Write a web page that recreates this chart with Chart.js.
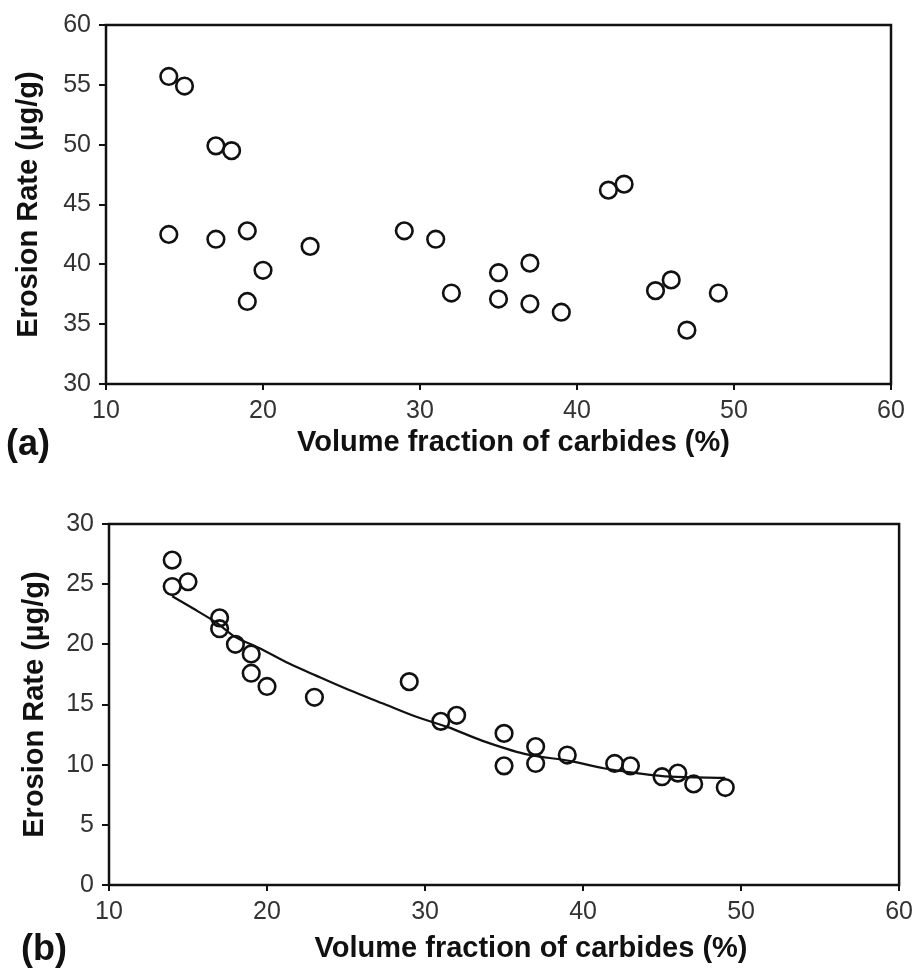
<!DOCTYPE html>
<html>
<head>
<meta charset="utf-8">
<script src="https://cdn.jsdelivr.net/npm/chart.js@4.4.1/dist/chart.umd.min.js"></script>
<style>
  body { margin: 0; background: #fff; }
  #wrap { position: relative; width: 919px; height: 970px; overflow: hidden; }
  canvas { position: absolute; left: 0; }
  #chartA { top: 0; }
  #chartB { top: 470px; }
  .panel { position: absolute; font: bold 36px "Liberation Sans", Arial, sans-serif; line-height: 36px; color: #111; }
</style>
</head>
<body>
<div id="wrap">
  <canvas id="chartA" width="919" height="470"></canvas>
  <canvas id="chartB" width="919" height="500"></canvas>
  <div class="panel" style="left:6px; top:425px;">(a)</div>
  <div class="panel" style="left:21px; top:930px;">(b)</div>
</div>
<script>
// panel (a) - raw points
const carbideA = [14, 15, 17, 18, 14, 17, 19, 20, 19, 23, 29, 31, 32, 35, 35, 37, 37, 39, 42, 43, 45, 46, 47, 49];
const erosionA = [55.7, 54.9, 49.9, 49.5, 42.5, 42.1, 42.8, 39.5, 36.9, 41.5, 42.8, 42.1, 37.6, 39.3, 37.1, 40.1, 36.7, 36.0, 46.2, 46.7, 37.8, 38.7, 34.5, 37.6];

// panel (b) - corrected points
const carbideB = [14, 14, 15, 17, 17, 18, 19, 19, 20, 23, 29, 31, 32, 35, 35, 37, 37, 39, 42, 43, 45, 46, 47, 49];
const erosionB = [27.0, 24.8, 25.2, 22.2, 21.3, 20.0, 19.2, 17.6, 16.5, 15.6, 16.9, 13.6, 14.1, 12.6, 9.9, 11.5, 10.1, 10.8, 10.1, 9.9, 9.0, 9.3, 8.4, 8.1];

// fitted curve in (b)
const fitX = [14, 15.3, 16.8, 18, 19.5, 21.4, 23.1, 25.2, 27.3, 29.4, 31.5, 33.6, 36.3, 39.2, 41.3, 43.4, 45.5, 49];
const fitY = [24.0, 23.0, 21.8, 20.6, 19.7, 18.4, 17.4, 16.2, 15.1, 14.0, 13.1, 12.0, 10.9, 10.3, 9.7, 9.3, 9.0, 8.9];

const xTicks = [10, 20, 30, 40, 50, 60];
const yTicksA = [30, 35, 40, 45, 50, 55, 60];
const yTicksB = [0, 5, 10, 15, 20, 25, 30];

const xTitle = 'Volume fraction of carbides (%)';
const yTitle = 'Erosion Rate (\u00b5g/g)';

const FONT = '"Liberation Sans", Arial, sans-serif';

// frame round the plot area + x title drawn a bit right of centre, as in the figure
const boxPlugin = {
  id: 'box',
  afterDatasetsDraw(chart, args, opts) {
    const a = chart.chartArea, ctx = chart.ctx;
    ctx.save();
    ctx.strokeStyle = '#111';
    ctx.lineWidth = 2.5;
    ctx.strokeRect(a.left, a.top, a.right - a.left, a.bottom - a.top);
    ctx.fillStyle = '#111';
    ctx.font = 'bold 29px ' + FONT;
    ctx.textAlign = 'center';
    ctx.textBaseline = 'middle';
    ctx.fillText(xTitle, (a.left + a.right) / 2 + opts.shift, a.bottom + opts.drop);
    ctx.restore();
  }
};

function pts(xs, ys) {
  return xs.map((x, i) => ({ x: x, y: ys[i] }));
}

function makeChart(el, cfg) {
  return new Chart(el, {
    type: 'scatter',
    data: { datasets: cfg.datasets },
    options: {
      responsive: false,
      animation: false,
      layout: { padding: cfg.padding },
      plugins: {
        legend: { display: false }, tooltip: { enabled: false },
        box: { shift: cfg.titleShift, drop: cfg.titleDrop }
      },
      scales: {
        x: {
          min: 10, max: 60,
          afterBuildTicks: s => { s.ticks = xTicks.map(v => ({ value: v })); },
          afterFit: s => { s.height = cfg.xHeight; },
          border: { display: false },
          grid: { drawOnChartArea: false, drawTicks: true, tickLength: 6, color: '#111', lineWidth: 2 },
          ticks: { color: '#333', padding: 6, maxRotation: 0, font: { family: FONT, size: 25 } },
          title: { display: false, text: xTitle }
        },
        y: {
          min: cfg.yMin, max: cfg.yMax,
          afterBuildTicks: s => { s.ticks = cfg.yTicks.map(v => ({ value: v })); },
          afterFit: s => { s.width = cfg.yWidth; },
          border: { display: false },
          grid: { drawOnChartArea: false, drawTicks: true, tickLength: 7, color: '#111', lineWidth: 2 },
          ticks: { color: '#333', padding: 8, font: { family: FONT, size: 25 } },
          title: { display: true, text: yTitle, color: '#111', padding: { top: cfg.yTitlePad, bottom: 0 },
                   font: { family: FONT, size: 29, weight: 'bold' } }
        }
      }
    },
    plugins: [boxPlugin]
  });
}

const circle = {
  pointStyle: 'circle',
  pointRadius: 8.3,
  pointBorderWidth: 2.6,
  pointBorderColor: '#111',
  pointBackgroundColor: 'rgba(255,255,255,0)',
  showLine: false
};

makeChart(document.getElementById('chartA'), {
  datasets: [Object.assign({ label: '(a)', data: pts(carbideA, erosionA) }, circle)],
  padding: { top: 25, right: 28, bottom: 0, left: 0 },
  xHeight: 86, yWidth: 106, yTitlePad: 12,
  titleShift: 15, titleDrop: 59,
  yMin: 30, yMax: 60, yTicks: yTicksA
});

makeChart(document.getElementById('chartB'), {
  datasets: [
    Object.assign({ label: '(b)', data: pts(carbideB, erosionB) }, circle),
    {
      label: 'fit', data: pts(fitX, fitY), showLine: true, pointRadius: 0,
      borderColor: '#111', borderWidth: 2.2, tension: 0.3, fill: false
    }
  ],
  padding: { top: 54, right: 16, bottom: 0, left: 0 },
  xHeight: 85, yWidth: 109, yTitlePad: 18,
  titleShift: 27, titleDrop: 64,
  yMin: 0, yMax: 30, yTicks: yTicksB
});
</script>
</body>
</html>
